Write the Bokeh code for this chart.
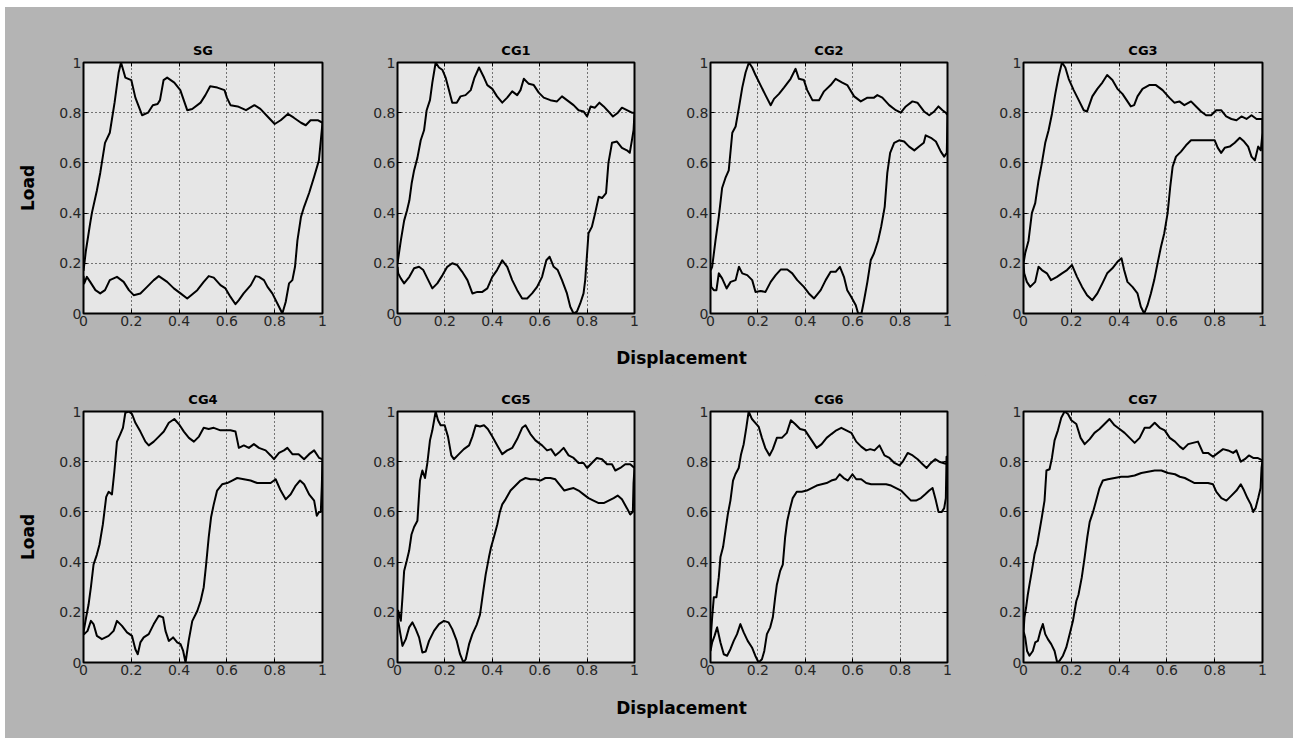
from bokeh.plotting import figure
from bokeh.layouts import column, row, Spacer
from bokeh.models import Range1d, Label, LinearAxis, FixedTicker, Title
from bokeh.embed import file_html
from bokeh.resources import INLINE

# ---------------- data ----------------
TICKS = [0, 0.2, 0.4, 0.6, 0.8, 1]
TICK_LABELS = ["0", "0.2", "0.4", "0.6", "0.8", "1"]
TITLES = ["SG", "CG1", "CG2", "CG3", "CG4", "CG5", "CG6", "CG7"]
X_LABEL = "Displacement"
Y_LABEL = "Load"

SG_UP_X = [0, 0.01, 0.028, 0.035, 0.056, 0.07, 0.09, 0.11, 0.13, 0.147, 0.157, 0.175, 0.2, 0.217, 0.245, 0.27, 0.29, 0.31, 0.32, 0.335, 0.35, 0.38, 0.405, 0.434, 0.455, 0.49, 0.51, 0.53, 0.56, 0.59, 0.6, 0.615, 0.645, 0.68, 0.715, 0.74, 0.775, 0.8, 0.825, 0.855, 0.88, 0.91, 0.93, 0.95, 0.98, 1.0]
SG_UP_Y = [0.17, 0.25, 0.36, 0.4, 0.49, 0.56, 0.68, 0.72, 0.84, 0.96, 1.0, 0.94, 0.93, 0.86, 0.79, 0.80, 0.83, 0.835, 0.85, 0.93, 0.94, 0.92, 0.89, 0.81, 0.815, 0.84, 0.87, 0.905, 0.90, 0.89, 0.86, 0.83, 0.825, 0.81, 0.83, 0.815, 0.78, 0.755, 0.77, 0.795, 0.78, 0.76, 0.75, 0.77, 0.77, 0.76]
SG_LO_X = [1.0, 0.985, 0.965, 0.944, 0.923, 0.91, 0.895, 0.885, 0.874, 0.86, 0.846, 0.832, 0.818, 0.79, 0.77, 0.755, 0.734, 0.72, 0.70, 0.67, 0.65, 0.636, 0.615, 0.594, 0.573, 0.545, 0.524, 0.503, 0.476, 0.434, 0.406, 0.378, 0.35, 0.315, 0.294, 0.266, 0.238, 0.21, 0.19, 0.168, 0.14, 0.11, 0.09, 0.07, 0.05, 0.028, 0.014, 0.003, 0.0]
SG_LO_Y = [0.76, 0.61, 0.545, 0.48, 0.425, 0.385, 0.29, 0.186, 0.133, 0.12, 0.046, 0.0, 0.027, 0.08, 0.106, 0.133, 0.146, 0.149, 0.113, 0.08, 0.053, 0.037, 0.066, 0.10, 0.113, 0.143, 0.149, 0.126, 0.093, 0.06, 0.08, 0.10, 0.126, 0.149, 0.133, 0.106, 0.08, 0.073, 0.093, 0.126, 0.146, 0.133, 0.093, 0.08, 0.093, 0.126, 0.146, 0.12, 0.15]

CG1_UP_X = [0, 0.014, 0.028, 0.04, 0.05, 0.06, 0.07, 0.084, 0.098, 0.112, 0.123, 0.137, 0.147, 0.161, 0.175, 0.19, 0.203, 0.217, 0.231, 0.25, 0.266, 0.287, 0.309, 0.325, 0.344, 0.365, 0.379, 0.4, 0.42, 0.442, 0.463, 0.484, 0.505, 0.519, 0.533, 0.554, 0.575, 0.596, 0.617, 0.645, 0.673, 0.694, 0.715, 0.743, 0.764, 0.785, 0.8, 0.815, 0.833, 0.852, 0.87, 0.89, 0.909, 0.93, 0.947, 0.968, 0.989, 1.0]
CG1_UP_Y = [0.2, 0.29, 0.37, 0.41, 0.45, 0.52, 0.57, 0.62, 0.69, 0.73, 0.81, 0.85, 0.92, 1.0, 0.98, 0.97, 0.94, 0.89, 0.84, 0.84, 0.865, 0.87, 0.89, 0.94, 0.98, 0.94, 0.91, 0.895, 0.865, 0.84, 0.86, 0.885, 0.87, 0.89, 0.935, 0.915, 0.91, 0.88, 0.86, 0.85, 0.845, 0.865, 0.85, 0.83, 0.81, 0.805, 0.785, 0.825, 0.82, 0.84, 0.825, 0.805, 0.785, 0.8, 0.82, 0.81, 0.8, 0.8]
CG1_LO_X = [1.0, 0.996, 0.989, 0.98, 0.968, 0.947, 0.926, 0.905, 0.89, 0.88, 0.863, 0.849, 0.834, 0.82, 0.806, 0.8, 0.792, 0.785, 0.771, 0.757, 0.743, 0.729, 0.715, 0.694, 0.676, 0.659, 0.642, 0.628, 0.61, 0.589, 0.568, 0.547, 0.526, 0.505, 0.484, 0.463, 0.442, 0.42, 0.4, 0.379, 0.358, 0.337, 0.316, 0.295, 0.273, 0.252, 0.231, 0.21, 0.19, 0.168, 0.147, 0.126, 0.109, 0.091, 0.07, 0.05, 0.028, 0.014, 0.003, 0.0]
CG1_LO_Y = [0.8, 0.73, 0.69, 0.64, 0.65, 0.66, 0.685, 0.68, 0.6, 0.48, 0.46, 0.465, 0.4, 0.345, 0.32, 0.24, 0.133, 0.08, 0.04, 0.007, 0.0, 0.027, 0.08, 0.133, 0.173, 0.186, 0.226, 0.212, 0.146, 0.106, 0.08, 0.06, 0.06, 0.093, 0.133, 0.186, 0.212, 0.173, 0.146, 0.1, 0.086, 0.086, 0.08, 0.133, 0.166, 0.193, 0.2, 0.186, 0.153, 0.12, 0.1, 0.14, 0.173, 0.186, 0.18, 0.146, 0.12, 0.14, 0.16, 0.186]

CG2_UP_X = [0, 0.007, 0.021, 0.035, 0.049, 0.063, 0.077, 0.092, 0.106, 0.12, 0.134, 0.148, 0.162, 0.176, 0.19, 0.211, 0.232, 0.254, 0.268, 0.289, 0.31, 0.338, 0.359, 0.373, 0.394, 0.408, 0.43, 0.458, 0.479, 0.507, 0.528, 0.556, 0.577, 0.606, 0.634, 0.662, 0.69, 0.704, 0.725, 0.754, 0.782, 0.803, 0.824, 0.852, 0.873, 0.901, 0.923, 0.944, 0.962, 0.979, 0.993, 1.0]
CG2_UP_Y = [0.17, 0.186, 0.29, 0.385, 0.5, 0.54, 0.57, 0.72, 0.745, 0.82, 0.9, 0.96, 1.0, 0.98, 0.95, 0.91, 0.87, 0.83, 0.855, 0.875, 0.9, 0.935, 0.975, 0.935, 0.93, 0.89, 0.85, 0.85, 0.885, 0.91, 0.935, 0.92, 0.91, 0.865, 0.845, 0.86, 0.86, 0.87, 0.86, 0.83, 0.81, 0.8, 0.825, 0.845, 0.84, 0.805, 0.79, 0.805, 0.825, 0.81, 0.8, 0.79]
CG2_LO_X = [1.0, 0.997, 0.986, 0.972, 0.951, 0.93, 0.908, 0.9, 0.88, 0.86, 0.838, 0.817, 0.796, 0.775, 0.758, 0.746, 0.735, 0.72, 0.707, 0.69, 0.676, 0.662, 0.648, 0.637, 0.623, 0.613, 0.594, 0.577, 0.563, 0.546, 0.528, 0.507, 0.486, 0.465, 0.437, 0.415, 0.394, 0.366, 0.345, 0.324, 0.296, 0.275, 0.254, 0.232, 0.211, 0.19, 0.176, 0.155, 0.134, 0.12, 0.106, 0.085, 0.068, 0.049, 0.035, 0.025, 0.014, 0.003, 0.0]
CG2_LO_Y = [0.79, 0.64, 0.625, 0.645, 0.685, 0.7, 0.71, 0.68, 0.665, 0.65, 0.665, 0.685, 0.69, 0.68, 0.64, 0.56, 0.425, 0.345, 0.29, 0.24, 0.212, 0.126, 0.053, 0.0, 0.0, 0.033, 0.066, 0.093, 0.146, 0.186, 0.166, 0.166, 0.133, 0.093, 0.06, 0.08, 0.106, 0.133, 0.16, 0.175, 0.175, 0.153, 0.126, 0.086, 0.09, 0.086, 0.133, 0.153, 0.16, 0.186, 0.133, 0.126, 0.1, 0.14, 0.16, 0.093, 0.093, 0.106, 0.17]

CG3_UP_X = [0, 0.007, 0.021, 0.035, 0.049, 0.063, 0.077, 0.091, 0.105, 0.119, 0.133, 0.147, 0.161, 0.175, 0.189, 0.21, 0.231, 0.252, 0.266, 0.288, 0.309, 0.33, 0.35, 0.372, 0.393, 0.414, 0.435, 0.449, 0.463, 0.477, 0.498, 0.526, 0.554, 0.582, 0.61, 0.631, 0.652, 0.673, 0.701, 0.722, 0.743, 0.764, 0.785, 0.806, 0.827, 0.848, 0.87, 0.891, 0.912, 0.933, 0.954, 0.975, 1.0]
CG3_UP_Y = [0.2, 0.24, 0.29, 0.4, 0.44, 0.53, 0.6, 0.68, 0.73, 0.795, 0.875, 0.945, 1.0, 0.98, 0.935, 0.89, 0.85, 0.81, 0.805, 0.865, 0.895, 0.92, 0.95, 0.93, 0.895, 0.875, 0.845, 0.825, 0.83, 0.865, 0.895, 0.91, 0.91, 0.89, 0.86, 0.84, 0.845, 0.83, 0.845, 0.825, 0.805, 0.79, 0.79, 0.81, 0.81, 0.785, 0.775, 0.77, 0.785, 0.775, 0.79, 0.775, 0.775]
CG3_LO_X = [1.0, 0.993, 0.982, 0.968, 0.954, 0.94, 0.923, 0.905, 0.884, 0.863, 0.842, 0.827, 0.813, 0.8, 0.771, 0.729, 0.701, 0.68, 0.659, 0.638, 0.624, 0.614, 0.603, 0.589, 0.575, 0.561, 0.547, 0.533, 0.519, 0.505, 0.491, 0.477, 0.456, 0.435, 0.421, 0.41, 0.393, 0.372, 0.35, 0.33, 0.309, 0.288, 0.266, 0.245, 0.224, 0.203, 0.182, 0.161, 0.14, 0.115, 0.098, 0.077, 0.063, 0.049, 0.028, 0.014, 0.003, 0.0]
CG3_LO_Y = [0.72, 0.65, 0.665, 0.61, 0.625, 0.665, 0.685, 0.7, 0.68, 0.665, 0.66, 0.64, 0.66, 0.69, 0.69, 0.69, 0.69, 0.67, 0.645, 0.625, 0.585, 0.505, 0.4, 0.32, 0.265, 0.2, 0.133, 0.08, 0.033, 0.0, 0.027, 0.08, 0.106, 0.126, 0.173, 0.22, 0.206, 0.18, 0.16, 0.12, 0.08, 0.053, 0.073, 0.106, 0.146, 0.193, 0.173, 0.16, 0.146, 0.133, 0.16, 0.173, 0.186, 0.126, 0.106, 0.126, 0.16, 0.2]

CG4_UP_X = [0, 0.011, 0.021, 0.031, 0.042, 0.056, 0.067, 0.081, 0.095, 0.105, 0.119, 0.129, 0.14, 0.154, 0.165, 0.175, 0.189, 0.203, 0.217, 0.238, 0.259, 0.273, 0.294, 0.315, 0.336, 0.357, 0.38, 0.399, 0.42, 0.441, 0.462, 0.483, 0.503, 0.524, 0.545, 0.573, 0.615, 0.636, 0.65, 0.671, 0.692, 0.713, 0.734, 0.762, 0.783, 0.797, 0.818, 0.839, 0.853, 0.874, 0.9, 0.923, 0.944, 0.965, 0.986, 1.0]
CG4_UP_Y = [0.12, 0.18, 0.23, 0.3, 0.39, 0.43, 0.47, 0.55, 0.66, 0.68, 0.67, 0.76, 0.88, 0.91, 0.935, 0.995, 1.0, 0.99, 0.955, 0.92, 0.88, 0.865, 0.88, 0.9, 0.92, 0.955, 0.97, 0.95, 0.92, 0.895, 0.88, 0.9, 0.935, 0.93, 0.935, 0.925, 0.925, 0.92, 0.855, 0.865, 0.855, 0.87, 0.855, 0.845, 0.825, 0.81, 0.835, 0.845, 0.855, 0.83, 0.83, 0.81, 0.83, 0.845, 0.815, 0.81]
CG4_LO_X = [1.0, 0.997, 0.993, 0.986, 0.976, 0.965, 0.944, 0.923, 0.906, 0.888, 0.867, 0.846, 0.825, 0.804, 0.783, 0.755, 0.727, 0.699, 0.671, 0.643, 0.622, 0.601, 0.58, 0.559, 0.545, 0.534, 0.524, 0.513, 0.503, 0.49, 0.476, 0.455, 0.44, 0.427, 0.417, 0.406, 0.392, 0.375, 0.357, 0.343, 0.333, 0.315, 0.294, 0.273, 0.252, 0.238, 0.227, 0.217, 0.203, 0.182, 0.161, 0.14, 0.126, 0.105, 0.077, 0.056, 0.042, 0.031, 0.017, 0.003, 0.0]
CG4_LO_Y = [0.81, 0.7, 0.6, 0.6, 0.585, 0.645, 0.67, 0.71, 0.725, 0.705, 0.67, 0.65, 0.685, 0.73, 0.715, 0.715, 0.715, 0.725, 0.73, 0.735, 0.725, 0.715, 0.71, 0.685, 0.63, 0.58, 0.5, 0.39, 0.3, 0.245, 0.205, 0.165, 0.086, 0.0, 0.046, 0.073, 0.08, 0.1, 0.086, 0.126, 0.18, 0.186, 0.153, 0.113, 0.1, 0.08, 0.033, 0.053, 0.106, 0.12, 0.146, 0.166, 0.126, 0.106, 0.093, 0.106, 0.153, 0.166, 0.126, 0.113, 0.12]

CG5_UP_X = [0, 0.003, 0.014, 0.021, 0.028, 0.039, 0.049, 0.059, 0.07, 0.084, 0.095, 0.105, 0.116, 0.126, 0.137, 0.147, 0.161, 0.171, 0.182, 0.199, 0.213, 0.227, 0.238, 0.259, 0.28, 0.302, 0.316, 0.33, 0.348, 0.365, 0.381, 0.4, 0.421, 0.442, 0.463, 0.484, 0.505, 0.526, 0.54, 0.561, 0.582, 0.61, 0.631, 0.648, 0.666, 0.685, 0.701, 0.722, 0.743, 0.764, 0.785, 0.8, 0.82, 0.841, 0.863, 0.884, 0.905, 0.919, 0.94, 0.961, 0.982, 1.0]
CG5_UP_Y = [0.19, 0.206, 0.166, 0.26, 0.365, 0.405, 0.445, 0.51, 0.54, 0.565, 0.725, 0.765, 0.735, 0.795, 0.885, 0.925, 1.0, 0.965, 0.945, 0.945, 0.9, 0.825, 0.81, 0.83, 0.85, 0.865, 0.9, 0.945, 0.94, 0.945, 0.93, 0.9, 0.865, 0.83, 0.845, 0.855, 0.89, 0.935, 0.945, 0.91, 0.885, 0.865, 0.845, 0.85, 0.825, 0.84, 0.855, 0.825, 0.815, 0.795, 0.795, 0.775, 0.795, 0.815, 0.81, 0.79, 0.79, 0.765, 0.775, 0.79, 0.79, 0.775]
CG5_LO_X = [1.0, 0.996, 0.993, 0.982, 0.968, 0.947, 0.929, 0.912, 0.891, 0.87, 0.849, 0.827, 0.806, 0.785, 0.764, 0.743, 0.722, 0.704, 0.687, 0.666, 0.645, 0.624, 0.603, 0.582, 0.561, 0.54, 0.519, 0.498, 0.477, 0.456, 0.442, 0.432, 0.421, 0.407, 0.395, 0.386, 0.372, 0.362, 0.348, 0.334, 0.316, 0.302, 0.288, 0.278, 0.264, 0.25, 0.231, 0.215, 0.196, 0.175, 0.154, 0.133, 0.119, 0.105, 0.091, 0.077, 0.063, 0.049, 0.035, 0.021, 0.011, 0.003, 0.0]
CG5_LO_Y = [0.775, 0.715, 0.6, 0.59, 0.615, 0.65, 0.665, 0.655, 0.645, 0.635, 0.635, 0.645, 0.655, 0.67, 0.685, 0.695, 0.69, 0.685, 0.705, 0.73, 0.735, 0.735, 0.725, 0.73, 0.73, 0.735, 0.725, 0.705, 0.685, 0.65, 0.63, 0.6, 0.55, 0.5, 0.46, 0.42, 0.35, 0.285, 0.19, 0.15, 0.113, 0.073, 0.013, 0.0, 0.033, 0.086, 0.133, 0.16, 0.166, 0.153, 0.126, 0.086, 0.044, 0.04, 0.1, 0.133, 0.16, 0.14, 0.093, 0.066, 0.12, 0.166, 0.19]

CG6_UP_X = [0, 0.003, 0.007, 0.014, 0.025, 0.035, 0.042, 0.053, 0.063, 0.073, 0.084, 0.095, 0.105, 0.119, 0.129, 0.14, 0.151, 0.161, 0.175, 0.189, 0.203, 0.217, 0.231, 0.249, 0.263, 0.28, 0.301, 0.322, 0.339, 0.357, 0.378, 0.399, 0.42, 0.448, 0.469, 0.49, 0.51, 0.531, 0.552, 0.573, 0.594, 0.615, 0.636, 0.657, 0.674, 0.692, 0.713, 0.734, 0.755, 0.776, 0.797, 0.811, 0.832, 0.853, 0.874, 0.895, 0.912, 0.93, 0.948, 0.965, 0.982, 1.0]
CG6_UP_Y = [0.046, 0.126, 0.18, 0.26, 0.26, 0.34, 0.42, 0.46, 0.525, 0.59, 0.645, 0.725, 0.75, 0.775, 0.83, 0.87, 0.935, 1.0, 0.97, 0.955, 0.94, 0.895, 0.855, 0.825, 0.85, 0.895, 0.895, 0.915, 0.965, 0.95, 0.93, 0.925, 0.895, 0.855, 0.87, 0.895, 0.91, 0.925, 0.935, 0.925, 0.915, 0.88, 0.86, 0.845, 0.85, 0.845, 0.865, 0.825, 0.815, 0.795, 0.785, 0.8, 0.835, 0.825, 0.81, 0.79, 0.775, 0.795, 0.81, 0.8, 0.795, 0.79]
CG6_LO_X = [1.0, 0.996, 0.993, 0.986, 0.976, 0.962, 0.951, 0.937, 0.923, 0.906, 0.888, 0.867, 0.846, 0.825, 0.804, 0.783, 0.762, 0.741, 0.72, 0.699, 0.678, 0.657, 0.636, 0.615, 0.599, 0.58, 0.562, 0.545, 0.529, 0.51, 0.49, 0.469, 0.448, 0.427, 0.406, 0.385, 0.364, 0.347, 0.336, 0.324, 0.315, 0.305, 0.294, 0.28, 0.273, 0.263, 0.252, 0.238, 0.227, 0.217, 0.203, 0.189, 0.175, 0.157, 0.14, 0.126, 0.112, 0.098, 0.084, 0.07, 0.056, 0.042, 0.028, 0.017, 0.007, 0.0]
CG6_LO_Y = [0.79, 0.82, 0.655, 0.615, 0.6, 0.6, 0.645, 0.695, 0.685, 0.67, 0.655, 0.645, 0.645, 0.665, 0.685, 0.695, 0.705, 0.71, 0.71, 0.71, 0.71, 0.715, 0.73, 0.73, 0.75, 0.725, 0.735, 0.75, 0.73, 0.725, 0.715, 0.71, 0.705, 0.695, 0.685, 0.68, 0.68, 0.655, 0.615, 0.565, 0.5, 0.39, 0.365, 0.31, 0.26, 0.18, 0.14, 0.113, 0.046, 0.013, 0.0, 0.027, 0.06, 0.086, 0.12, 0.153, 0.113, 0.086, 0.053, 0.027, 0.033, 0.08, 0.14, 0.106, 0.08, 0.046]

CG7_UP_X = [0, 0.004, 0.011, 0.018, 0.025, 0.035, 0.046, 0.057, 0.067, 0.077, 0.088, 0.096, 0.109, 0.119, 0.13, 0.144, 0.158, 0.172, 0.186, 0.2, 0.221, 0.239, 0.256, 0.277, 0.297, 0.318, 0.339, 0.36, 0.381, 0.402, 0.423, 0.444, 0.465, 0.486, 0.507, 0.528, 0.549, 0.57, 0.591, 0.612, 0.634, 0.654, 0.668, 0.689, 0.709, 0.73, 0.751, 0.772, 0.793, 0.814, 0.835, 0.856, 0.877, 0.891, 0.909, 0.926, 0.943, 0.961, 0.979, 1.0]
CG7_UP_Y = [0.12, 0.18, 0.22, 0.27, 0.31, 0.365, 0.43, 0.47, 0.525, 0.58, 0.645, 0.765, 0.77, 0.815, 0.885, 0.925, 0.975, 1.0, 0.99, 0.965, 0.95, 0.895, 0.87, 0.89, 0.915, 0.93, 0.95, 0.97, 0.945, 0.93, 0.915, 0.895, 0.875, 0.895, 0.935, 0.935, 0.955, 0.935, 0.925, 0.895, 0.88, 0.86, 0.85, 0.87, 0.875, 0.88, 0.835, 0.835, 0.82, 0.835, 0.85, 0.845, 0.835, 0.845, 0.8, 0.81, 0.825, 0.815, 0.815, 0.805]
CG7_LO_X = [1.0, 0.996, 0.992, 0.982, 0.971, 0.961, 0.951, 0.937, 0.923, 0.909, 0.891, 0.87, 0.849, 0.828, 0.807, 0.793, 0.772, 0.743, 0.716, 0.696, 0.675, 0.654, 0.634, 0.605, 0.577, 0.549, 0.521, 0.493, 0.465, 0.437, 0.409, 0.381, 0.353, 0.332, 0.318, 0.304, 0.291, 0.277, 0.267, 0.256, 0.244, 0.23, 0.221, 0.207, 0.193, 0.179, 0.165, 0.151, 0.141, 0.13, 0.116, 0.102, 0.091, 0.081, 0.071, 0.06, 0.049, 0.039, 0.025, 0.015, 0.007, 0.0]
CG7_LO_Y = [0.805, 0.775, 0.695, 0.655, 0.615, 0.6, 0.63, 0.655, 0.685, 0.71, 0.685, 0.665, 0.645, 0.655, 0.68, 0.71, 0.715, 0.715, 0.715, 0.725, 0.735, 0.74, 0.75, 0.755, 0.765, 0.765, 0.76, 0.755, 0.745, 0.74, 0.74, 0.735, 0.73, 0.725, 0.695, 0.645, 0.6, 0.56, 0.5, 0.42, 0.34, 0.27, 0.245, 0.166, 0.113, 0.06, 0.027, 0.007, 0.0, 0.046, 0.073, 0.093, 0.113, 0.153, 0.126, 0.086, 0.08, 0.046, 0.027, 0.046, 0.1, 0.126]

CURVES = [
    (SG_UP_X, SG_UP_Y, SG_LO_X, SG_LO_Y),
    (CG1_UP_X, CG1_UP_Y, CG1_LO_X, CG1_LO_Y),
    (CG2_UP_X, CG2_UP_Y, CG2_LO_X, CG2_LO_Y),
    (CG3_UP_X, CG3_UP_Y, CG3_LO_X, CG3_LO_Y),
    (CG4_UP_X, CG4_UP_Y, CG4_LO_X, CG4_LO_Y),
    (CG5_UP_X, CG5_UP_Y, CG5_LO_X, CG5_LO_Y),
    (CG6_UP_X, CG6_UP_Y, CG6_LO_X, CG6_LO_Y),
    (CG7_UP_X, CG7_UP_Y, CG7_LO_X, CG7_LO_Y),
]

# ---------------- style / layout ----------------
BG = "#b4b4b4"
PANEL = "#e6e6e6"
TICK_FONT = "DejaVu Sans"
BOLD_FONT = "DejaVu Sans"

FRAME_W = [239, 237, 237, 239]
BORDER_L = [78, 37, 38, 38]
BORDER_R = [38, 38, 38, 31]
FRAME_H = 251
BORDER_T = [55, 36]
BORDER_B = [27, 28]

overrides = dict(zip(TICKS, TICK_LABELS))


def style_axis(ax, show_labels):
    ax.ticker = FixedTicker(ticks=TICKS)
    ax.axis_line_color = None
    ax.major_tick_in = 4
    ax.major_tick_out = 0
    ax.major_tick_line_color = "black"
    ax.major_tick_line_width = 1
    ax.minor_tick_in = 0
    ax.minor_tick_out = 0
    if show_labels:
        ax.major_label_overrides = overrides
        ax.major_label_text_font = TICK_FONT
        ax.major_label_text_font_size = "14px"
        ax.major_label_text_color = "#262626"
    else:
        ax.major_label_text_font_size = "1px"
        ax.major_label_text_color = None
        ax.major_label_standoff = 0


def make_panel(idx):
    r, c = divmod(idx, 4)
    ux, uy, lx, ly = CURVES[idx]
    p = figure(
        frame_width=FRAME_W[c], frame_height=FRAME_H,
        x_range=Range1d(0, 1), y_range=Range1d(0, 1),
        toolbar_location=None, output_backend="svg", title=None,
        min_border_left=BORDER_L[c], min_border_right=BORDER_R[c],
        min_border_top=BORDER_T[r], min_border_bottom=BORDER_B[r],
        background_fill_color=PANEL, border_fill_color=BG,
        outline_line_color="black", outline_line_width=2,
    )
    style_axis(p.xaxis[0], True)
    style_axis(p.yaxis[0], True)
    p.xaxis.major_label_standoff = 2
    p.yaxis.major_label_standoff = 2
    if c == 0:
        p.yaxis.axis_label = Y_LABEL
        p.yaxis.axis_label_text_font = BOLD_FONT
        p.yaxis.axis_label_text_font_style = "bold"
        p.yaxis.axis_label_text_font_size = "17px"
        p.yaxis.axis_label_text_color = "black"
        p.yaxis.axis_label_standoff = 18
    top = LinearAxis()
    style_axis(top, False)
    p.add_layout(top, "above")
    right = LinearAxis()
    style_axis(right, False)
    p.add_layout(right, "right")

    p.add_layout(Title(text=TITLES[idx], align="center", text_font=BOLD_FONT,
                       text_font_style="bold", text_font_size="13px",
                       text_color="black", standoff=9), "above")

    for g in (p.xgrid[0], p.ygrid[0]):
        g.ticker = FixedTicker(ticks=TICKS)
        g.grid_line_color = "black"
        g.grid_line_dash = "1 3"
        g.grid_line_width = 1

    p.line(x=list(ux) + list(lx), y=list(uy) + list(ly), line_color="black",
           line_width=2, line_join="round")
    return p


def make_strip(h, y_from_bottom):
    s = figure(width=1288, height=h, x_range=Range1d(0, 1), y_range=Range1d(0, 1),
               toolbar_location=None, output_backend="svg", min_border=0,
               x_axis_type=None, y_axis_type=None, outline_line_color=None,
               background_fill_color=BG, border_fill_color=BG)
    s.grid.visible = False
    s.add_layout(Label(x=676, y=y_from_bottom, x_units="screen", y_units="screen",
                       text=X_LABEL, text_align="center", text_baseline="middle",
                       text_font=BOLD_FONT, text_font_style="bold",
                       text_font_size="17px", text_color="black"))
    return s


panels = [make_panel(i) for i in range(8)]
strip1 = make_strip(35, 18)
strip2 = make_strip(48, 31)

grid = column(row(*panels[:4], styles={"background-color": BG}), strip1,
              row(*panels[4:], styles={"background-color": BG}), strip2,
              styles={"background-color": BG})
layout = column(Spacer(height=7), row(Spacer(width=5), grid))

open("out.html", "w").write(file_html(layout, INLINE))
